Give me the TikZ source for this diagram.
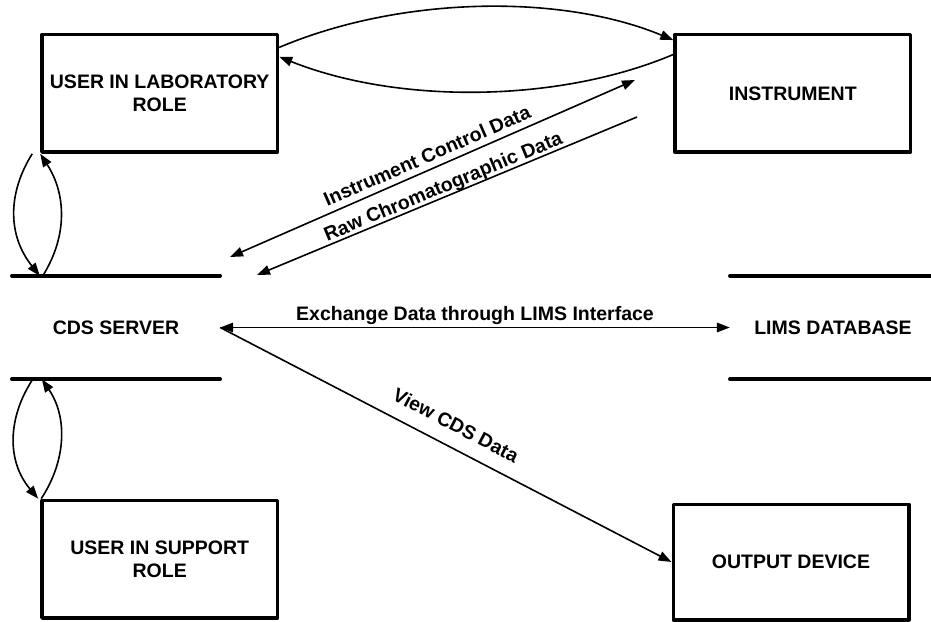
\documentclass[tikz,border=0pt]{standalone}
\usepackage{fontspec}
\setmainfont{Liberation Sans}
\usetikzlibrary{arrows.meta}

\begin{document}
\begin{tikzpicture}[x=1pt, y=-1pt, >={Triangle[length=13pt, width=9.5pt]},
    entity/.style={draw, line width=3.5pt, line join=round, minimum width=235.5pt, minimum height=117.5pt, inner sep=0pt, align=center, font=\fontsize{19.5pt}{23pt}\selectfont\bfseries},
    store/.style={minimum height=103pt, inner sep=0pt, font=\fontsize{19.5pt}{23pt}\selectfont\bfseries},
    storeline/.style={line width=3.5pt, line cap=round},
    flow/.style={line width=1.6pt},
    flowlabel/.style={inner sep=1pt, font=\fontsize{19.5pt}{23pt}\selectfont\bfseries}]
    \useasboundingbox (0,0) rectangle (931,621);

    % Externe Einheiten
    \node[entity] (lab) at (159.7,93.3) {USER IN LABORATORY\\ROLE};
    \node[entity] (inst) at (792.8,93.3) {INSTRUMENT};
    \node[entity] (support) at (159.7,559.2) {USER IN SUPPORT\\ROLE};
    \node[entity, minimum height=115.5pt] (out) at (791,562) {OUTPUT DEVICE};

    % Datenspeicher
    \node[store, minimum width=208pt] (cds) at (116,327.5) {CDS SERVER};
    \node[store, minimum width=206pt] (lims) at (833,327.5) {LIMS DATABASE};
    \draw[storeline] (cds.north west) -- (cds.north east);
    \draw[storeline] (cds.south west) -- (cds.south east);
    \draw[storeline] (lims.north west) -- (lims.north east);
    \draw[storeline] (lims.south west) -- (lims.south east);

    % Labor <-> Instrument
    \draw[flow, ->] (lab.21.5) .. controls +(120,-51) and +(-113,-47) .. (inst.156.9);
    \draw[flow, ->] (inst.162.9) .. controls +(-113,48) and +(120,48) .. (lab.17.1);

    % Schleifen am CDS-Server
    \draw[flow, ->] ([xshift=-8pt]lab.south west) .. controls +(-25,40) and +(-32,-40) .. ([xshift=28pt]cds.north west);
    \draw[flow, ->] ([xshift=31pt]cds.north west) .. controls +(25,-40) and +(26,40) .. (lab.south west);
    \draw[flow, ->] ([xshift=21pt]cds.south west) .. controls +(-25,38) and +(-32,-38) .. ([xshift=-2pt]support.north west);
    \draw[flow, ->] ([xshift=1pt]support.north west) .. controls +(25,-38) and +(26,38) .. ([xshift=30pt]cds.south west);

    % Instrumentdaten
    \coordinate (icd1) at (230,257);
    \coordinate (icd2) at (635,80);
    \coordinate (rcd1) at (257,275);
    \coordinate (rcd2) at (637,117);
    \draw[flow, <->] (icd1) -- node[flowlabel, sloped, above=5pt, pos=.5] (icdlabel) {Instrument Control Data} (icd2);
    \draw[flow, <-] (rcd1) -- node[flowlabel, sloped, above=-2pt, pos=.5] (rcdlabel) {Raw Chromatographic Data} (rcd2);

    % LIMS und Ausgabe
    \draw[flow, <->] (cds.east) -- node[flowlabel, above=1pt] (limslabel) {Exchange Data through LIMS Interface} (lims.west);
    \draw[flow, ->] (cds.east) -- node[flowlabel, sloped, above=13pt, pos=.5] (viewlabel) {View CDS Data} (out.west);
\end{tikzpicture}
\end{document}
